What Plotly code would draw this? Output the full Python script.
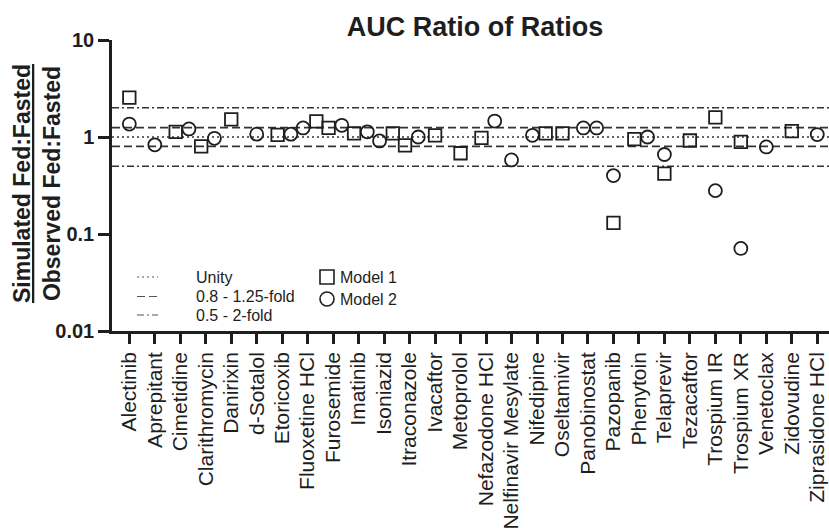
import math
import plotly.graph_objects as go

# ---------------- data ----------------
categories = [
    "Alectinib", "Aprepitant", "Cimetidine", "Clarithromycin", "Danirixin",
    "d-Sotalol", "Etoricoxib", "Fluoxetine HCl", "Furosemide", "Imatinib",
    "Isoniazid", "Itraconazole", "Ivacaftor", "Metoprolol", "Nefazodone HCl",
    "Nelfinavir Mesylate", "Nifedipine", "Oseltamivir", "Panobinostat",
    "Pazopanib", "Phenytoin", "Telaprevir", "Tezacaftor", "Trospium IR",
    "Trospium XR", "Venetoclax", "Zidovudine", "Ziprasidone HCl",
]

model1_drugs = [
    "Alectinib", "Cimetidine", "Clarithromycin", "Danirixin", "Etoricoxib",
    "Fluoxetine HCl", "Furosemide", "Imatinib", "Isoniazid", "Itraconazole",
    "Ivacaftor", "Metoprolol", "Nefazodone HCl", "Nifedipine", "Oseltamivir",
    "Pazopanib", "Phenytoin", "Telaprevir", "Tezacaftor", "Trospium IR",
    "Trospium XR", "Zidovudine",
]
model1_values = [
    2.55, 1.13, 0.80, 1.52, 1.05,
    1.45, 1.24, 1.09, 1.09, 0.82,
    1.04, 0.68, 0.98, 1.09, 1.09,
    0.13, 0.95, 0.42, 0.92, 1.59,
    0.89, 1.15,
]

model2_drugs = [
    "Alectinib", "Aprepitant", "Cimetidine", "Clarithromycin", "d-Sotalol",
    "Etoricoxib", "Fluoxetine HCl", "Furosemide", "Imatinib", "Isoniazid",
    "Itraconazole", "Nefazodone HCl", "Nelfinavir Mesylate", "Nifedipine",
    "Panobinostat", "Panobinostat", "Pazopanib", "Phenytoin", "Telaprevir",
    "Trospium IR", "Trospium XR", "Venetoclax", "Ziprasidone HCl",
]
model2_values = [
    1.36, 0.83, 1.21, 0.97, 1.07,
    1.07, 1.24, 1.32, 1.13, 0.91,
    1.00, 1.46, 0.58, 1.04,
    1.24, 1.24, 0.40, 1.00, 0.66,
    0.28, 0.071, 0.79, 1.06,
]

unity = [1.0]
band_125 = [0.8, 1.25]
band_2 = [0.5, 2.0]

y_tick_vals = [0.01, 0.1, 1, 10]
y_tick_text = ["0.01", "0.1", "1", "10"]

legend_lines = ["Unity", "0.8 - 1.25-fold", "0.5 - 2-fold"]
legend_models = ["Model 1", "Model 2"]

# ---------------- layout constants ----------------
W, H = 829, 528
ML, MR, MT, MB = 112, 0, 40, 197
FONT = "Arial, Liberation Sans, sans-serif"
INK = "#1e1e1e"

# Prism-like horizontal nudge for points that would overlap
CLUSTER_DECADES = 0.185
NUDGE_STEP = 0.52
NUDGE_SHIFT = 0.08

pos = {c: i for i, c in enumerate(categories)}
points = []  # (model, drug, value)
for d, v in zip(model1_drugs, model1_values):
    points.append((1, d, v))
for d, v in zip(model2_drugs, model2_values):
    points.append((2, d, v))

xpos = [None] * len(points)
for cat in categories:
    idx = [k for k, p in enumerate(points) if p[1] == cat]
    idx.sort(key=lambda k: points[k][2])
    clusters = []
    for k in idx:
        if clusters and abs(math.log10(points[k][2]) - math.log10(points[clusters[-1][-1]][2])) < CLUSTER_DECADES:
            clusters[-1].append(k)
        else:
            clusters.append([k])
    for cl in clusters:
        n = len(cl)
        for j, k in enumerate(cl):
            off = 0.0 if n == 1 else (j - (n - 1) / 2) * NUDGE_STEP + NUDGE_SHIFT
            xpos[k] = pos[cat] + off

fig = go.Figure()
for model, sym, size in [(1, "square-open", 12.5), (2, "circle-open", 13)]:
    xs = [xpos[k] for k, p in enumerate(points) if p[0] == model]
    ys = [p[2] for p in points if p[0] == model]
    fig.add_trace(go.Scatter(
        x=xs, y=ys, mode="markers", name=f"Model {model}",
        marker=dict(symbol=sym, size=size, color=INK, line=dict(width=1.8, color=INK)),
        showlegend=False, cliponaxis=False,
    ))

DOT, DASH, DASHDOT = "2px,3px", "8px,4px", "7px,3px,2px,3px"
shapes = []
for val, dash in [(unity[0], DOT)] + [(v, DASH) for v in band_125] + [(v, DASHDOT) for v in band_2]:
    shapes.append(dict(type="line", xref="paper", x0=0, x1=1, yref="y", y0=val, y1=val,
                       line=dict(color="#333333", width=1.6, dash=dash), layer="below"))

pw, ph = W - ML - MR, H - MT - MB


def px_x(px):
    return (px - ML) / pw


def px_y(py):
    return (H - MB - py) / ph


annotations = []
# legend: line samples and texts
for (txt, dash, py) in zip(legend_lines, [DOT, DASH, DASHDOT], [277, 296.5, 315]):
    shapes.append(dict(type="line", xref="paper", yref="paper",
                       x0=px_x(137), x1=px_x(158), y0=px_y(py), y1=px_y(py),
                       line=dict(color="#555555", width=1.2, dash=dash)))
    annotations.append(dict(xref="paper", yref="paper", x=px_x(194), y=px_y(py),
                            xanchor="left", yanchor="middle", text=txt, showarrow=False,
                            font=dict(family=FONT, size=16, color=INK)))
# legend: model symbols
shapes.append(dict(type="rect", xref="paper", yref="paper",
                   x0=px_x(320), x1=px_x(334), y0=px_y(284), y1=px_y(270),
                   line=dict(color=INK, width=1.6)))
shapes.append(dict(type="circle", xref="paper", yref="paper",
                   x0=px_x(320), x1=px_x(334), y0=px_y(306), y1=px_y(292),
                   line=dict(color=INK, width=1.6)))
for txt, py in zip(legend_models, [277, 299]):
    annotations.append(dict(xref="paper", yref="paper", x=px_x(338), y=px_y(py),
                            xanchor="left", yanchor="middle", text=txt, showarrow=False,
                            font=dict(family=FONT, size=16, color=INK)))

# y-axis label (ratio of ratios)
annotations.append(dict(
    xref="paper", yref="paper", x=px_x(37), y=px_y(184), xanchor="center", yanchor="middle",
    textangle=-90, showarrow=False,
    text="<u>Simulated Fed:Fasted</u><br>Observed Fed:Fasted",
    font=dict(family=FONT, size=23, color=INK, weight="bold"),
))

fig.update_layout(
    width=W, height=H,
    margin=dict(l=ML, r=MR, t=MT, b=MB, autoexpand=False),
    paper_bgcolor="white", plot_bgcolor="white",
    font=dict(family=FONT, color=INK),
    title=dict(text="AUC Ratio of Ratios", x=475 / W, xref="container", xanchor="center",
               y=1 - 27 / H, yref="container", yanchor="middle",
               font=dict(family=FONT, size=27, color=INK, weight="bold")),
    shapes=shapes, annotations=annotations, showlegend=False,
)
fig.update_xaxes(
    type="linear", range=[-0.68, 27.46], automargin=False,
    tickmode="array", tickvals=list(range(len(categories))), ticktext=categories,
    tickangle=-90, ticks="outside", ticklen=10, tickwidth=2.5, tickcolor=INK,
    showline=True, linewidth=2.5, linecolor=INK, showgrid=False, zeroline=False,
    tickfont=dict(family=FONT, size=21, color=INK),
)
fig.update_yaxes(
    type="log", range=[-2, 1], automargin=False,
    tickmode="array", tickvals=y_tick_vals, ticktext=y_tick_text,
    ticks="outside", ticklen=11, tickwidth=2.5, tickcolor=INK,
    showline=True, linewidth=2.5, linecolor=INK, showgrid=False, zeroline=False,
    tickfont=dict(family=FONT, size=20, color=INK, weight="bold"),
)

fig.write_html("out.html", config={"displayModeBar": False},
               post_script="document.body.style.margin='0px';")
